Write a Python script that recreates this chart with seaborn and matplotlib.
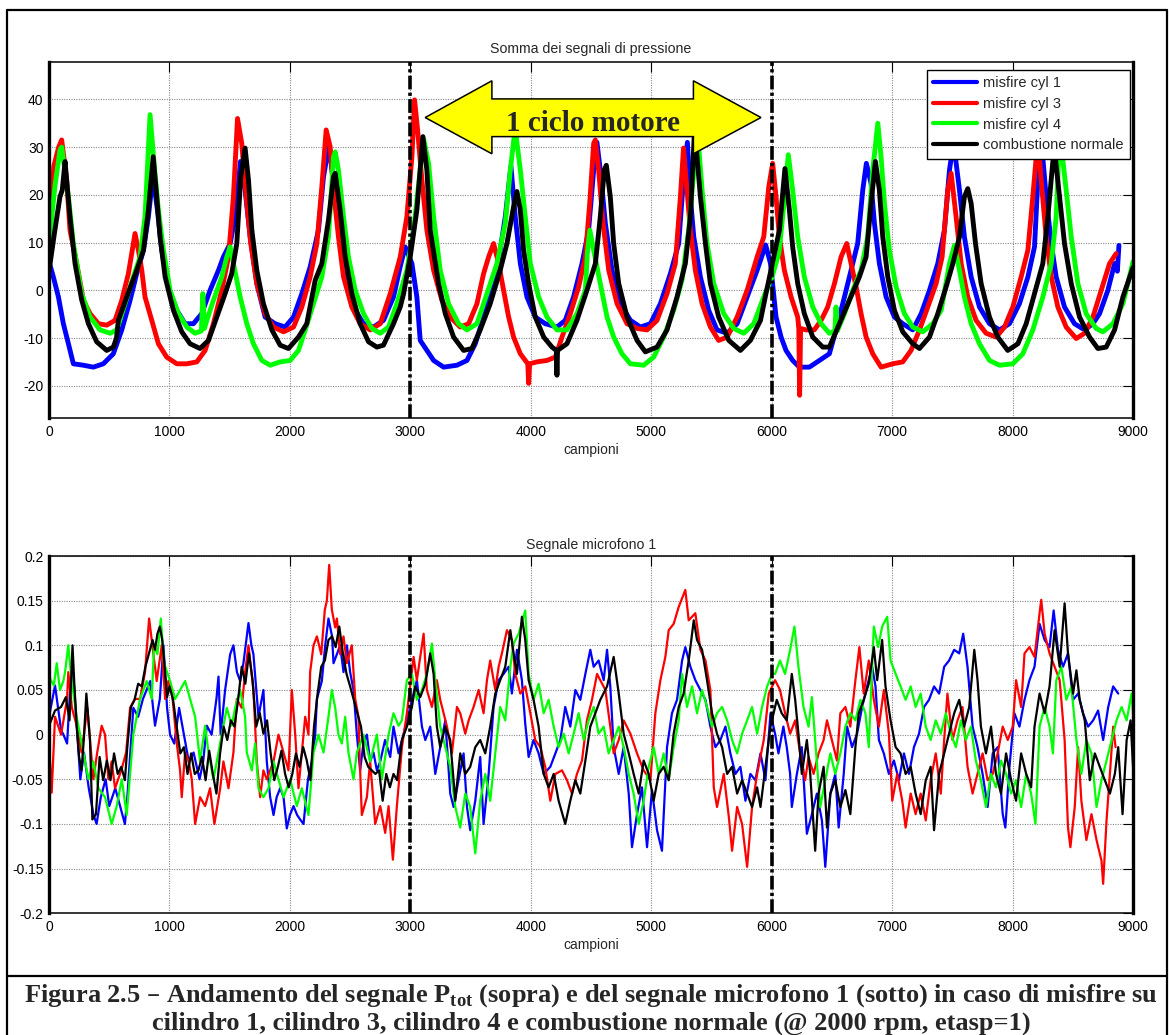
import matplotlib
matplotlib.use("Agg")
import matplotlib.pyplot as plt
import pandas as pd
import seaborn as sns
from matplotlib.patches import Polygon
from matplotlib.lines import Line2D
from matplotlib.ticker import FuncFormatter

sns.set_style("white")
plt.rcParams["font.family"] = ["Liberation Sans", "DejaVu Sans"]
plt.rcParams["axes.unicode_minus"] = False

series_names = ["misfire cyl 1", "misfire cyl 3", "misfire cyl 4", "combustione normale"]
series_colors = ["#0000ff", "#ff0000", "#00ff00", "#000000"]

x_ticks = list(range(0, 9001, 1000))
p_yticks = [-20, -10, 0, 10, 20, 30, 40]
m_yticks = [-0.2, -0.15, -0.1, -0.05, 0, 0.05, 0.1, 0.15, 0.2]
cycle_marks = [3000, 6000]

# ---- Somma dei segnali di pressione: (campione, valore) ----
p_cyl1 = [(0, 6), (36, 2.8), (78, -1.4), (119, -7), (161, -11.2), (202, -15.4), (285, -15.7), (368, -16.1),
          (451, -15.4), (534, -13.3), (604, -8.3), (673, -2.1), (728, 3.5), (784, 8.4), (825, 15.4), (862, 24),
          (900, 16.8), (936, 8.4), (991, 0.7), (1061, -4.2), (1130, -7), (1199, -7), (1268, -4.9), (1337, 0),
          (1407, 4.2), (1448, 7), (1504, 9.8), (1545, 15.4), (1590, 27), (1628, 21), (1670, 11.2), (1725, 1.4),
          (1794, -5.6), (1877, -7), (1960, -7.7), (2030, -5.6), (2099, -0.7), (2168, 4.9), (2237, 12.6),
          (2279, 23.8), (2325, 30.5), (2362, 22.4), (2403, 12.6), (2459, 2.8), (2528, -3.5), (2611, -7),
          (2694, -7.7), (2777, -6.3), (2860, -1.4), (2916, 5), (2957, 9.1), (3013, 5.6), (3054, -1.4),
          (3082, -10.5), (3137, -12.6), (3193, -14.7), (3276, -16.1), (3387, -15.7), (3470, -14.7),
          (3539, -11.2), (3608, -5.6), (3663, 0), (3733, 6.3), (3788, 15.4), (3835, 26), (3871, 15.4),
          (3913, 5.6), (3968, -1.4), (4037, -5.6), (4120, -7), (4217, -7.7), (4286, -6.3), (4355, -1.4),
          (4425, 5.6), (4480, 12.6), (4522, 25.2), (4549, 31), (4577, 25.2), (4619, 14), (4674, 4.2),
          (4743, -2.8), (4827, -6.3), (4910, -7.7), (4993, -7), (5076, -2.8), (5159, 3.5), (5228, 9.8),
          (5269, 23.8), (5300, 31), (5330, 18), (5353, 11.2), (5408, 2.8), (5477, -4.2), (5546, -8.3),
          (5630, -9), (5713, -7), (5796, -1.4), (5879, 4.2), (5950, 9.5), (5990, 5.6), (6010, 0.7),
          (6036, -5.6), (6078, -9.8), (6119, -12.6), (6174, -14.7), (6230, -16.1), (6313, -16.1),
          (6396, -14.7), (6479, -13.3), (6534, -8.3), (6604, -1.4), (6659, 4.2), (6714, 9.8), (6756, 21),
          (6786, 26.6), (6825, 22.4), (6853, 14), (6894, 5.6), (6950, -1.4), (7019, -5.6), (7088, -7),
          (7171, -8.3), (7241, -4.9), (7310, 0), (7379, 5.6), (7434, 12.6), (7476, 25.2), (7510, 31),
          (7559, 21), (7600, 11.2), (7656, 2.8), (7725, -3.5), (7808, -7), (7891, -8.3), (7974, -7),
          (8057, -2.8), (8127, 2.8), (8182, 9.1), (8210, 23.1), (8240, 31), (8279, 19.6), (8321, 9.8),
          (8362, 2.8), (8431, -3.5), (8514, -7), (8598, -8.3), (8667, -7), (8722, -4.9), (8791, 0),
          (8847, 5.6), (8870, 4), (8883, 9.4)]

p_cyl3 = [(0, 13), (40, 26), (80, 30), (105, 31.5), (147, 23.1), (174, 12.6), (230, 5.6), (285, -2.1),
          (341, -4.9), (410, -7), (479, -7.3), (548, -6.3), (604, -2.1), (659, 3.5), (700, 9.8), (714, 11.9),
          (742, 8.4), (770, 4.2), (797, -1.4), (853, -6.3), (908, -11.2), (977, -14), (1061, -15.4),
          (1144, -15.4), (1227, -15), (1296, -12.6), (1365, -7), (1434, 0), (1490, 7), (1531, 19.6),
          (1565, 36), (1600, 30.8), (1637, 19.6), (1675, 9.8), (1725, 1.4), (1794, -4.9), (1864, -7.7),
          (1947, -8.7), (2030, -7.7), (2099, -3.5), (2168, 2.8), (2224, 9.8), (2265, 21.7), (2301, 33.6),
          (2334, 30.1), (2362, 21), (2403, 11.2), (2445, 2.8), (2514, -3.5), (2583, -7), (2666, -8.3),
          (2750, -7), (2833, -0.7), (2916, 7), (2971, 15.4), (3013, 28), (3035, 39.9), (3060, 33.6),
          (3096, 23.1), (3137, 12.6), (3193, 4.2), (3262, -2.1), (3331, -5.6), (3414, -7.7), (3484, -7),
          (3553, -2.8), (3608, 3.5), (3650, 7), (3691, 9.8), (3733, 5.6), (3774, 0), (3816, -5.6),
          (3857, -9.8), (3913, -13.3), (3975, -15.4), (3982, -19.5), (3990, -15.4), (4051, -15),
          (4134, -14.7), (4204, -14), (4259, -9.8), (4328, -4.9), (4397, 0.7), (4453, 7), (4489, 18.2),
          (4522, 30.8), (4536, 31.5), (4563, 25.2), (4600, 14), (4647, 4.2), (4716, -2.8), (4799, -7),
          (4882, -8), (4965, -8.3), (5048, -6.3), (5131, -0.7), (5200, 5.6), (5242, 19.6), (5268, 29.8),
          (5292, 22.4), (5325, 12.6), (5366, 4.2), (5422, -2.8), (5491, -7.7), (5560, -10.5), (5630, -9.8),
          (5713, -5.6), (5796, 0), (5879, 7), (5934, 11.2), (5976, 21.7), (6008, 26.6), (6036, 19.6),
          (6064, 11.2), (6105, 4.2), (6161, -1.4), (6216, -5.6), (6225, -8), (6232, -22), (6240, -8),
          (6285, -8.3), (6354, -8.3), (6410, -6.3), (6465, -3.5), (6521, 1.4), (6576, 7), (6623, 9.8),
          (6659, 5.6), (6701, 0.7), (6742, -4.9), (6784, -9.8), (6839, -13.3), (6908, -16.1), (7005, -15.4),
          (7088, -15), (7157, -12.6), (7227, -8.3), (7296, -3.5), (7365, 1.4), (7415, 7), (7462, 21),
          (7490, 24.5), (7531, 15.4), (7573, 5.6), (7628, -1.4), (7697, -6.3), (7780, -9), (7864, -9.8),
          (7933, -7.7), (8002, -3.5), (8071, 2.8), (8127, 8.4), (8168, 19.6), (8210, 32), (8237, 23.1),
          (8279, 11.2), (8321, 2.8), (8376, -3.5), (8445, -7.7), (8528, -10.1), (8598, -9), (8667, -5.6),
          (8736, 0), (8805, 5.6), (8860, 7.7)]

p_cyl4 = [(0, 9.8), (50, 22), (91, 29.4), (105, 30), (161, 19.6), (202, 9.8), (271, -0.7), (341, -5.6),
          (424, -8.3), (507, -9), (562, -8.3), (631, -2.8), (700, 2.8), (756, 7), (797, 15.4), (839, 36.8),
          (872, 26.6), (908, 16.8), (950, 8.4), (1005, 0), (1074, -4.9), (1144, -7.7), (1213, -9),
          (1265, -8.5), (1277, -0.7), (1290, -8), (1310, -6.3), (1365, -2.1), (1434, 2.8), (1476, 7),
          (1504, 9.1), (1531, 5.6), (1565, 1.4), (1587, -1.4), (1642, -7), (1697, -11.2), (1767, -14.7),
          (1836, -15.7), (1919, -15), (2002, -14.7), (2071, -12.6), (2127, -8.3), (2196, -2.8), (2265, 2.8),
          (2320, 11.2), (2362, 28), (2376, 29), (2403, 25.2), (2445, 15.4), (2486, 7), (2542, 0),
          (2611, -4.9), (2680, -8), (2750, -9), (2819, -7.7), (2888, -2.8), (2971, 4.2), (3027, 12.6),
          (3082, 25.2), (3110, 31.8), (3151, 26.6), (3193, 15.4), (3248, 4.2), (3317, -2.8), (3400, -7),
          (3470, -8.3), (3553, -7), (3636, -0.7), (3719, 5.6), (3788, 14), (3830, 25.2), (3870, 34),
          (3913, 25.2), (3954, 15.4), (3996, 5.6), (4065, -1.4), (4134, -5.6), (4217, -8.3), (4300, -8.3),
          (4383, -4.9), (4453, 0), (4470, 8), (4490, 12.6), (4522, 8.4), (4577, 1.4), (4633, -5.6),
          (4688, -9.8), (4757, -13.3), (4827, -15.4), (4937, -15.7), (5020, -14), (5103, -9.8), (5186, -4.2),
          (5255, 2.1), (5311, 12.6), (5350, 24), (5385, 33), (5422, 21), (5463, 9.8), (5519, 1.4),
          (5602, -4.9), (5685, -8), (5768, -9), (5851, -7), (5934, -1.4), (6003, 2.8), (6059, 7.7),
          (6091, 15.4), (6138, 28.4), (6174, 21), (6216, 11.2), (6271, 2.8), (6341, -3.5), (6410, -7),
          (6479, -9), (6525, -8.5), (6534, -3.5), (6545, -8.5), (6604, -4.9), (6673, 0), (6742, 4.2),
          (6797, 11.2), (6839, 25.2), (6881, 35), (6908, 28), (6936, 18.2), (6977, 8.4), (7033, 0.7),
          (7102, -4.9), (7171, -7.7), (7254, -8.7), (7337, -7), (7407, -4.2), (7476, 5.6), (7517, 9.4),
          (7559, 4.2), (7600, -1.4), (7656, -7), (7725, -11.2), (7808, -14.7), (7891, -15.7), (8002, -15.4),
          (8085, -13.3), (8168, -8.3), (8251, -1.4), (8321, 5.6), (8362, 15.4), (8392, 33), (8445, 21),
          (8487, 11.2), (8542, 1.4), (8611, -4.9), (8694, -8), (8750, -8.7), (8833, -7), (8916, -2.8),
          (9000, 6)]

p_normal = [(0, 4), (45, 12), (91, 19.6), (110, 21), (133, 27), (150, 22), (174, 15.4), (216, 5.6), (271, -2),
            (327, -7), (396, -10.8), (479, -12.6), (534, -11.9), (560, -10), (576, -6.3), (645, -1.4),
            (728, 4.2), (784, 8.4), (825, 16.8), (865, 28), (894, 19.6), (922, 11.2), (964, 2.8), (1033, -4.2),
            (1102, -8.7), (1171, -11.2), (1254, -12.2), (1324, -10.5), (1393, -5.6), (1462, -0.7), (1517, 3.5),
            (1559, 9.8), (1592, 23.8), (1628, 29.8), (1656, 23.1), (1684, 12.6), (1725, 4.2), (1780, -2.8),
            (1850, -8.3), (1919, -11.5), (1988, -12.2), (2071, -9.8), (2140, -7), (2210, 2.1), (2265, 5.6),
            (2320, 14.7), (2362, 23.8), (2376, 24.5), (2417, 16.8), (2459, 7), (2514, -0.7), (2583, -7),
            (2653, -10.8), (2722, -11.9), (2777, -11.5), (2860, -7), (2916, -3.5), (2944, -0.7), (2999, 7),
            (3054, 16.8), (3104, 32.2), (3137, 25.2), (3165, 12.6), (3234, 1.4), (3290, -4.9), (3359, -9.8),
            (3442, -12.6), (3511, -12.2), (3580, -8.3), (3663, -2.8), (3746, 4.2), (3802, 9.8), (3857, 17.5),
            (3885, 20.7), (3913, 16.8), (3940, 8.4), (3982, 1.4), (4037, -5.6), (4107, -9.8), (4176, -11.9),
            (4212, -12.6), (4217, -17.8), (4222, -12.6), (4300, -11.2), (4383, -6.3), (4466, 0), (4536, 5.6),
            (4577, 15.4), (4610, 25.2), (4627, 26.2), (4660, 19.6), (4688, 9.8), (4730, 1.4), (4799, -5.6),
            (4882, -10.5), (4951, -12.9), (5048, -11.9), (5131, -8.3), (5214, -1.4), (5283, 5.6), (5325, 15.4),
            (5360, 34), (5408, 19.6), (5450, 9.8), (5491, 1.4), (5560, -5.6), (5644, -10.5), (5740, -12.6),
            (5823, -10.5), (5907, -6.3), (5950, -1), (6000, 5), (6064, 12.6), (6110, 25.5), (6147, 16.8),
            (6174, 9.1), (6216, 1.4), (6271, -4.9), (6341, -9.8), (6424, -11.9), (6479, -11.9), (6562, -7),
            (6645, -2.1), (6728, 2.8), (6784, 7), (6825, 18.2), (6861, 27), (6894, 21), (6922, 11.2),
            (6964, 2.8), (7019, -4.2), (7088, -8.7), (7171, -11.2), (7227, -12.2), (7310, -9.8), (7379, -4.9),
            (7448, 0.7), (7504, 5.6), (7559, 11.2), (7600, 19.6), (7628, 21.3), (7656, 18.2), (7692, 9.8),
            (7739, 1.4), (7808, -5.6), (7877, -9.8), (7960, -12.6), (8044, -11.2), (8113, -7), (8182, -0.7),
            (8251, 5.6), (8293, 15.4), (8345, 30), (8390, 19.6), (8431, 9.8), (8487, 1.4), (8556, -5.6),
            (8639, -9.8), (8708, -12.2), (8777, -11.9), (8847, -8.3), (8916, -1.4), (9000, 4.8)]

# ---- Segnale microfono 1: (campione, valore) ----
m_cyl1 = [(0, 0.02), (50, 0.055), (100, 0.005), (120, 0.0), (150, -0.01), (175, 0.05), (200, 0.07), (230, 0.01),
          (260, -0.05), (290, -0.02), (330, -0.06), (370, -0.09), (395, -0.1), (430, -0.07), (470, -0.05),
          (500, -0.08), (550, -0.06), (590, -0.08), (630, -0.1), (650, -0.07), (700, 0.03), (740, 0.02),
          (780, 0.04), (810, 0.05), (840, 0.06), (880, 0.01), (920, 0.04), (950, 0.1), (980, 0.03), (1005, 0.0),
          (1040, -0.01), (1080, 0.03), (1120, 0.0), (1160, -0.03), (1200, -0.02), (1250, -0.05), (1280, -0.03),
          (1310, 0.01), (1350, 0.0), (1390, 0.04), (1407, 0.065), (1425, 0.0), (1462, 0.05), (1504, 0.09),
          (1531, 0.1), (1560, 0.07), (1587, 0.06), (1614, 0.08), (1656, 0.125), (1680, 0.1), (1697, 0.09),
          (1739, 0.02), (1780, 0.05), (1808, -0.03), (1836, -0.07), (1864, -0.09), (1890, -0.07), (1919, -0.06),
          (1947, -0.07), (1974, -0.105), (2000, -0.09), (2030, -0.08), (2060, -0.09), (2085, -0.095),
          (2113, -0.1), (2150, -0.05), (2182, -0.03), (2210, 0.0), (2224, 0.04), (2265, 0.06), (2293, 0.1),
          (2320, 0.13), (2350, 0.11), (2362, 0.08), (2390, 0.09), (2417, 0.1), (2445, 0.07), (2473, 0.1),
          (2500, 0.07), (2528, 0.05), (2556, 0.0), (2583, -0.04), (2610, -0.01), (2639, 0.0), (2666, -0.03),
          (2694, -0.02), (2722, -0.04), (2750, -0.03), (2790, -0.006), (2833, -0.025), (2860, 0.009),
          (2902, -0.021), (2944, 0.001), (2999, 0.031), (3054, 0.061), (3096, 0.009), (3124, -0.006),
          (3165, 0.009), (3207, -0.044), (3248, -0.014), (3290, 0.016), (3331, -0.066), (3359, -0.081),
          (3400, -0.051), (3442, -0.021), (3470, -0.081), (3497, -0.107), (3539, -0.074), (3580, -0.025),
          (3608, -0.1), (3650, -0.044), (3691, 0.031), (3733, 0.061), (3774, 0.068), (3816, 0.076),
          (3843, 0.046), (3885, 0.095), (3926, 0.061), (3954, 0.012), (3982, -0.025), (4023, -0.006),
          (4065, -0.021), (4107, -0.044), (4162, -0.036), (4204, -0.021), (4245, -0.006), (4286, 0.031),
          (4328, 0.009), (4370, 0.05), (4411, 0.039), (4453, 0.068), (4494, 0.095), (4522, 0.076),
          (4563, 0.083), (4605, 0.061), (4633, 0.095), (4660, 0.054), (4688, -0.014), (4730, -0.044),
          (4771, -0.014), (4813, -0.066), (4840, -0.126), (4882, -0.089), (4923, -0.059), (4965, -0.126),
          (5006, -0.062), (5048, -0.107), (5089, -0.13), (5131, -0.014), (5172, 0.024), (5214, 0.039),
          (5256, 0.083), (5283, 0.098), (5325, 0.076), (5366, 0.061), (5408, 0.05), (5450, 0.039),
          (5491, 0.009), (5533, -0.014), (5574, -0.006), (5616, 0.009), (5657, -0.021), (5699, -0.044),
          (5740, -0.036), (5782, -0.074), (5823, -0.044), (5865, -0.051), (5907, -0.021), (5948, -0.051),
          (5990, 0.024), (6028, 0.001), (6056, -0.021), (6097, 0.009), (6125, -0.014), (6153, -0.044),
          (6167, -0.081), (6209, -0.044), (6250, -0.014), (6292, -0.111), (6334, -0.089), (6375, -0.066),
          (6417, -0.096), (6445, -0.148), (6487, -0.066), (6528, -0.044), (6556, -0.104), (6598, -0.044),
          (6626, 0.009), (6667, -0.014), (6709, 0.001), (6751, 0.031), (6792, 0.054), (6834, 0.076),
          (6862, 0.054), (6890, -0.006), (6931, -0.021), (6973, -0.044), (7015, -0.029), (7056, -0.051),
          (7098, -0.021), (7140, -0.044), (7181, -0.014), (7223, 0.001), (7265, 0.031), (7306, 0.039),
          (7348, 0.054), (7390, 0.046), (7432, 0.076), (7473, 0.083), (7515, 0.095), (7557, 0.091),
          (7590, 0.113), (7626, 0.076), (7668, 0.009), (7709, -0.014), (7751, -0.044), (7793, -0.081),
          (7835, -0.021), (7876, -0.014), (7918, -0.089), (7940, -0.104), (7974, -0.036), (8015, 0.024),
          (8057, 0.009), (8099, 0.039), (8140, 0.061), (8182, 0.076), (8224, 0.124), (8266, 0.106),
          (8307, 0.098), (8341, 0.139), (8377, 0.095), (8419, 0.076), (8460, 0.091), (8502, 0.039),
          (8544, 0.046), (8585, 0.024), (8627, 0.009), (8669, 0.016), (8710, 0.027), (8752, -0.006),
          (8794, 0.031), (8835, 0.054), (8877, 0.046)]

m_cyl3 = [(0, -0.01), (22, -0.065), (50, 0.02), (100, 0.0), (150, 0.04), (160, 0.07), (190, 0.03), (230, 0.01),
          (270, -0.02), (318, 0.03), (368, -0.05), (400, -0.02), (437, 0.01), (465, 0.0), (493, -0.05),
          (520, -0.03), (548, -0.06), (600, -0.04), (640, -0.02), (673, 0.03), (714, 0.04), (756, 0.04),
          (797, 0.07), (831, 0.13), (867, 0.09), (894, 0.06), (936, 0.1), (964, 0.04), (990, 0.06),
          (1019, 0.05), (1061, -0.01), (1088, -0.04), (1102, -0.07), (1130, -0.02), (1160, -0.03),
          (1185, -0.05), (1213, -0.1), (1254, -0.07), (1296, -0.08), (1337, -0.06), (1373, -0.1),
          (1421, -0.06), (1448, -0.03), (1490, -0.06), (1531, -0.02), (1559, 0.04), (1600, 0.03),
          (1628, 0.07), (1656, 0.1), (1697, 0.05), (1725, -0.03), (1753, -0.07), (1780, -0.04), (1808, -0.05),
          (1864, -0.03), (1905, 0.0), (1947, -0.02), (1988, -0.04), (2016, 0.05), (2044, 0.0), (2071, -0.06),
          (2099, -0.02), (2127, 0.02), (2154, 0.0), (2168, 0.07), (2196, 0.1), (2224, 0.11), (2260, 0.09),
          (2290, 0.14), (2307, 0.15), (2326, 0.19), (2348, 0.14), (2376, 0.12), (2390, 0.13), (2417, 0.09),
          (2445, 0.11), (2473, 0.08), (2514, 0.1), (2542, 0.04), (2569, 0.02), (2583, -0.04), (2597, -0.09),
          (2639, -0.07), (2666, -0.03), (2708, -0.1), (2750, -0.08), (2791, -0.11), (2819, -0.08),
          (2855, -0.14), (2888, -0.08), (2930, -0.014), (2971, 0.024), (3027, 0.087), (3054, 0.061),
          (3110, 0.113), (3137, 0.05), (3179, 0.031), (3220, 0.061), (3248, 0.039), (3304, 0.009),
          (3345, -0.021), (3387, 0.031), (3414, 0.024), (3456, 0.001), (3484, 0.016), (3525, 0.031),
          (3567, 0.05), (3608, 0.024), (3636, 0.061), (3663, 0.083), (3705, 0.05), (3733, 0.076),
          (3760, 0.091), (3802, 0.117), (3843, 0.106), (3871, 0.068), (3913, 0.046), (3954, 0.054),
          (3996, 0.024), (4037, -0.006), (4079, -0.014), (4120, -0.036), (4162, -0.074), (4204, -0.044),
          (4259, -0.04), (4300, -0.051), (4342, -0.066), (4383, -0.044), (4425, -0.029), (4466, 0.016),
          (4508, 0.039), (4550, 0.068), (4577, 0.061), (4619, 0.05), (4660, 0.009), (4688, -0.021),
          (4730, -0.006), (4771, 0.016), (4827, 0.001), (4882, -0.021), (4937, -0.04), (4993, -0.051),
          (5034, 0.024), (5076, 0.061), (5117, 0.087), (5145, 0.117), (5186, 0.124), (5228, 0.143),
          (5283, 0.162), (5311, 0.128), (5366, 0.136), (5408, 0.095), (5450, 0.083), (5491, 0.05),
          (5519, -0.059), (5546, -0.081), (5602, -0.044), (5644, -0.092), (5671, -0.13), (5713, -0.081),
          (5754, -0.1), (5796, -0.148), (5837, -0.081), (5879, -0.044), (5934, -0.006), (5976, 0.046),
          (6028, 0.061), (6069, 0.05), (6111, 0.024), (6153, 0.001), (6195, 0.016), (6236, -0.021),
          (6278, -0.051), (6306, -0.025), (6348, -0.044), (6389, -0.021), (6431, -0.006), (6459, 0.016),
          (6500, -0.006), (6542, -0.029), (6570, 0.024), (6612, 0.031), (6653, 0.009), (6695, 0.061),
          (6728, 0.098), (6764, 0.046), (6806, 0.083), (6848, 0.039), (6890, 0.009), (6931, 0.05),
          (6973, 0.001), (7001, -0.074), (7042, -0.044), (7084, -0.074), (7112, -0.104), (7154, -0.066),
          (7195, -0.089), (7237, -0.066), (7279, -0.096), (7320, -0.051), (7362, -0.021), (7404, -0.066),
          (7432, -0.006), (7459, 0.046), (7501, -0.006), (7543, 0.016), (7584, 0.031), (7626, -0.036),
          (7668, -0.066), (7709, -0.044), (7751, -0.021), (7793, -0.051), (7835, -0.044), (7876, -0.021),
          (7918, 0.009), (7960, -0.006), (8001, 0.009), (8029, 0.061), (8071, 0.031), (8099, 0.091),
          (8140, 0.098), (8182, 0.087), (8224, 0.136), (8238, 0.151), (8266, 0.113), (8307, 0.091),
          (8349, 0.076), (8391, 0.061), (8432, -0.006), (8460, -0.104), (8480, -0.126), (8516, -0.081),
          (8544, -0.014), (8571, -0.074), (8613, -0.118), (8655, -0.089), (8697, -0.118), (8738, -0.141),
          (8752, -0.167), (8780, -0.096), (8808, -0.044), (8835, 0.009), (8855, -0.014)]

m_cyl4 = [(0, 0.065), (40, 0.055), (64, 0.08), (91, 0.05), (119, 0.06), (133, 0.07), (160, 0.1), (188, 0.06),
          (230, 0.02), (285, -0.02), (327, -0.05), (368, -0.03), (410, -0.06), (465, -0.07), (520, -0.1),
          (562, -0.08), (604, -0.05), (645, -0.09), (700, 0.0), (756, 0.04), (811, 0.06), (853, 0.04),
          (872, 0.1), (900, 0.09), (928, 0.13), (955, 0.08), (1005, 0.06), (1047, 0.04), (1088, 0.05),
          (1130, 0.06), (1171, 0.04), (1213, 0.02), (1254, -0.03), (1296, 0.01), (1324, -0.02), (1365, -0.05),
          (1393, -0.03), (1434, 0.0), (1476, 0.03), (1517, 0.01), (1545, 0.03), (1587, 0.05), (1628, 0.02),
          (1642, -0.02), (1684, -0.04), (1711, -0.01), (1739, -0.06), (1780, -0.07), (1822, -0.06),
          (1864, -0.03), (1905, -0.05), (1947, -0.07), (2002, -0.05), (2057, -0.08), (2099, -0.06),
          (2154, -0.09), (2196, -0.02), (2237, 0.0), (2279, -0.02), (2320, 0.02), (2348, 0.05), (2376, 0.03),
          (2403, 0.0), (2431, -0.01), (2459, 0.02), (2486, -0.02), (2514, -0.04), (2528, -0.05), (2556, -0.02),
          (2611, 0.0), (2666, -0.03), (2722, 0.0), (2763, -0.05), (2819, 0.0), (2860, 0.024), (2902, 0.01),
          (2930, 0.016), (2971, 0.061), (3013, 0.068), (3054, 0.039), (3096, 0.05), (3137, 0.068),
          (3179, 0.102), (3207, 0.061), (3248, 0.009), (3290, -0.014), (3331, -0.036), (3373, -0.081),
          (3414, -0.104), (3456, -0.066), (3497, -0.081), (3539, -0.133), (3580, -0.074), (3622, -0.044),
          (3663, -0.074), (3705, -0.021), (3746, 0.031), (3788, 0.016), (3830, 0.076), (3857, 0.102),
          (3899, 0.113), (3954, 0.139), (3982, 0.068), (4023, 0.039), (4065, 0.057), (4107, 0.024),
          (4148, 0.039), (4190, 0.009), (4231, -0.014), (4273, 0.001), (4314, -0.021), (4356, 0.001),
          (4397, 0.024), (4439, -0.006), (4480, 0.016), (4522, 0.031), (4563, 0.001), (4605, 0.009),
          (4646, -0.021), (4688, -0.006), (4730, 0.009), (4771, -0.014), (4813, -0.044), (4854, -0.066),
          (4896, -0.1), (4937, -0.074), (4979, -0.036), (5020, -0.014), (5062, -0.044), (5103, -0.021),
          (5145, -0.051), (5186, -0.014), (5228, 0.016), (5256, 0.068), (5297, 0.031), (5339, 0.054),
          (5380, 0.024), (5422, 0.05), (5463, 0.031), (5505, 0.009), (5546, 0.024), (5588, 0.031),
          (5630, 0.016), (5671, -0.006), (5713, -0.021), (5754, 0.001), (5796, 0.016), (5837, 0.031),
          (5879, 0.001), (5920, 0.031), (5962, 0.054), (6003, 0.068), (6028, 0.068), (6069, 0.083),
          (6111, 0.068), (6153, 0.095), (6189, 0.121), (6222, 0.076), (6264, 0.031), (6306, 0.009),
          (6334, 0.042), (6361, -0.006), (6403, -0.081), (6445, -0.051), (6487, -0.021), (6528, -0.044),
          (6570, -0.021), (6612, 0.009), (6653, 0.024), (6695, 0.016), (6737, 0.039), (6778, 0.024),
          (6806, -0.014), (6848, 0.121), (6884, 0.098), (6917, 0.121), (6959, 0.132), (6987, 0.083),
          (7029, 0.068), (7070, 0.054), (7112, 0.039), (7154, 0.054), (7195, 0.031), (7237, 0.046),
          (7279, 0.009), (7320, -0.006), (7362, 0.016), (7404, 0.001), (7446, 0.024), (7487, 0.001),
          (7529, -0.014), (7571, 0.016), (7612, -0.006), (7654, 0.009), (7695, -0.029), (7737, -0.051),
          (7779, -0.081), (7821, -0.044), (7862, -0.059), (7904, -0.029), (7946, -0.044), (7988, -0.066),
          (8029, -0.051), (8071, -0.081), (8113, -0.044), (8154, -0.066), (8190, -0.1), (8224, 0.009),
          (8266, 0.031), (8307, 0.009), (8335, -0.021), (8363, 0.061), (8405, 0.076), (8446, 0.039),
          (8488, 0.054), (8530, -0.006), (8571, -0.044), (8613, -0.006), (8655, -0.021), (8697, -0.081),
          (8738, -0.051), (8780, -0.029), (8822, -0.006), (8863, 0.016), (8905, 0.031), (8947, 0.016),
          (8988, 0.046), (9000, 0.024)]

m_normal = [(0, 0.01), (50, 0.027), (100, 0.031), (140, 0.042), (170, 0.016), (195, 0.1), (210, 0.057),
            (230, 0.009), (250, -0.025), (270, -0.04), (290, -0.003), (310, 0.046), (340, -0.006), (360, -0.095),
            (390, -0.089), (420, -0.025), (450, -0.051), (480, -0.029), (510, -0.051), (540, -0.021),
            (570, -0.044), (600, -0.036), (630, -0.051), (650, -0.014), (680, 0.031), (710, 0.039), (740, 0.057),
            (770, 0.054), (800, 0.076), (830, 0.091), (860, 0.106), (880, 0.095), (900, 0.113), (920, 0.121),
            (940, 0.106), (960, 0.076), (980, 0.042), (1000, 0.054), (1030, 0.039), (1060, 0.009), (1090, -0.021),
            (1120, -0.014), (1150, -0.044), (1180, -0.021), (1210, -0.044), (1240, -0.04), (1270, -0.025),
            (1300, -0.051), (1330, -0.018), (1360, -0.044), (1390, -0.066), (1420, -0.021), (1450, 0.009),
            (1480, -0.006), (1510, 0.016), (1540, 0.009), (1570, 0.039), (1600, 0.076), (1630, 0.057),
            (1660, 0.091), (1690, 0.061), (1720, 0.009), (1750, 0.024), (1780, 0.001), (1810, 0.016),
            (1840, -0.021), (1870, -0.051), (1900, -0.036), (1930, -0.018), (1960, -0.044), (1990, -0.059),
            (2020, -0.044), (2050, -0.021), (2080, -0.036), (2110, -0.014), (2140, -0.029), (2170, -0.051),
            (2200, 0.009), (2230, 0.046), (2260, 0.076), (2290, 0.083), (2320, 0.106), (2350, 0.11), (2380, 0.098),
            (2410, 0.121), (2440, 0.091), (2470, 0.068), (2500, 0.054), (2530, 0.039), (2560, 0.024), (2590, 0.009),
            (2620, -0.025), (2650, -0.036), (2680, -0.04), (2710, -0.044), (2740, -0.04), (2770, -0.074),
            (2800, -0.044), (2830, -0.059), (2860, -0.044), (2890, -0.051), (2930, -0.006), (2971, 0.009),
            (3013, 0.031), (3040, 0.054), (3082, 0.042), (3124, 0.057), (3165, 0.091), (3193, 0.068),
            (3220, 0.009), (3248, -0.014), (3290, 0.009), (3331, -0.006), (3373, -0.074), (3414, -0.021),
            (3456, -0.044), (3497, -0.036), (3539, -0.014), (3580, -0.006), (3622, -0.021), (3663, 0.009),
            (3705, 0.046), (3746, 0.061), (3788, 0.076), (3830, 0.117), (3857, 0.091), (3885, 0.068),
            (3926, 0.132), (3954, 0.106), (3982, 0.061), (4023, 0.039), (4065, 0.009), (4107, -0.044),
            (4148, -0.059), (4190, -0.044), (4231, -0.074), (4286, -0.1), (4328, -0.074), (4370, -0.051),
            (4411, -0.066), (4453, -0.029), (4494, 0.009), (4536, 0.024), (4577, 0.039), (4633, 0.054),
            (4688, 0.087), (4730, 0.046), (4771, 0.001), (4813, -0.021), (4854, -0.044), (4896, -0.066),
            (4937, -0.029), (4979, -0.044), (5020, -0.074), (5062, -0.044), (5103, -0.036), (5145, -0.051),
            (5186, 0.001), (5228, 0.031), (5269, 0.046), (5311, 0.083), (5353, 0.128), (5380, 0.106),
            (5422, 0.095), (5463, 0.061), (5505, 0.024), (5546, 0.001), (5588, -0.014), (5630, -0.044),
            (5671, -0.036), (5713, -0.066), (5754, -0.051), (5796, -0.066), (5837, -0.081), (5879, -0.059),
            (5907, -0.081), (5948, -0.036), (5990, 0.009), (6042, 0.039), (6083, 0.024), (6125, 0.016),
            (6167, 0.068), (6195, 0.039), (6222, 0.001), (6250, -0.044), (6292, -0.006), (6320, -0.044),
            (6361, -0.13), (6389, -0.066), (6431, -0.036), (6459, -0.104), (6487, -0.066), (6528, -0.051),
            (6570, -0.081), (6612, -0.062), (6653, -0.089), (6695, -0.014), (6723, 0.024), (6764, 0.039),
            (6806, 0.057), (6848, 0.098), (6876, 0.061), (6917, 0.106), (6945, 0.054), (6987, 0.016),
            (7029, -0.014), (7070, -0.021), (7112, -0.044), (7154, -0.036), (7195, -0.066), (7237, -0.089),
            (7279, -0.051), (7320, -0.036), (7348, -0.107), (7390, -0.044), (7432, -0.021), (7473, 0.001),
            (7515, 0.024), (7557, 0.039), (7598, 0.009), (7640, 0.031), (7682, 0.095), (7709, 0.061),
            (7737, 0.009), (7779, -0.021), (7821, 0.009), (7862, -0.044), (7904, -0.066), (7946, -0.021),
            (7988, -0.051), (8029, -0.074), (8071, -0.021), (8113, -0.044), (8154, -0.059), (8182, 0.009),
            (8224, 0.046), (8266, 0.024), (8307, 0.054), (8349, 0.117), (8391, 0.076), (8432, 0.147),
            (8460, 0.091), (8502, 0.046), (8530, 0.072), (8557, 0.039), (8599, 0.016), (8641, -0.051),
            (8683, -0.021), (8724, -0.036), (8766, -0.051), (8808, -0.066), (8849, -0.044), (8877, -0.014),
            (8913, -0.089), (8947, -0.006), (8980, 0.016), (9000, -0.036)]

# double arrow marking one engine cycle (data units of the upper panel)
arrow_x = (3123, 3677, 5350, 5911)
arrow_y = (28.6, 32.2, 36.2, 40.1, 43.9)


def long_frame(*series):
    rows = []
    for name, pts in zip(series_names, series):
        rows.extend((name, x, y) for x, y in pts)
    return pd.DataFrame(rows, columns=["serie", "campioni", "valore"])


def style_axes(ax, ylim, yticks, title, title_pad):
    ax.set_xlim(0, 9000)
    ax.set_ylim(*ylim)
    ax.set_xticks(x_ticks)
    ax.set_yticks(yticks)
    ax.yaxis.set_major_formatter(FuncFormatter(lambda v, p: f"{round(v, 3):g}"))
    ax.set_axisbelow(True)
    ax.grid(True, color="#8a8a8a", linestyle=(0, (1, 1.2)), linewidth=0.8)
    ax.tick_params(direction="in", top=True, right=True, length=7, width=0.8,
                   labelsize=10, pad=5, colors="black")
    ax.tick_params(axis="y", pad=4)
    for side in ("top", "bottom"):
        ax.spines[side].set_linewidth(1.1)
        ax.spines[side].set_color("black")
    for side in ("left", "right"):
        ax.spines[side].set_linewidth(2.4)
        ax.spines[side].set_color("black")
    ax.set_title(title, fontsize=10.2, pad=title_pad)
    ax.set_xlabel("campioni", fontsize=10, labelpad=3)
    ax.set_ylabel("")
    for xv in cycle_marks:
        ax.axvline(xv, color="black", linewidth=2.6, dashes=(3.8, 0.9, 0.9, 0.9), zorder=4)


fig = plt.figure(figsize=(11.7, 10.35), dpi=100)
ax_p = fig.add_axes([0.0419, 0.5964, 0.9265, 0.3440])
ax_m = fig.add_axes([0.0419, 0.1176, 0.9265, 0.3452])

df_p = long_frame(p_cyl1, p_cyl3, p_cyl4, p_normal)
sns.lineplot(data=df_p, x="campioni", y="valore", hue="serie", hue_order=series_names,
             palette=series_colors, estimator=None, sort=False, linewidth=3.5,
             legend=False, ax=ax_p)
style_axes(ax_p, (-26.7, 47.9), p_yticks, "Somma dei segnali di pressione", 6)

df_m = long_frame(m_cyl1, m_cyl3, m_cyl4, m_normal)
sns.lineplot(data=df_m, x="campioni", y="valore", hue="serie", hue_order=series_names,
             palette=series_colors, estimator=None, sort=False, linewidth=1.6,
             legend=False, ax=ax_m)
style_axes(ax_m, (-0.2, 0.2), m_yticks, "Segnale microfono 1", 5)

# yellow double arrow with its label
xl, xlb, xrb, xr = arrow_x
yhb, ybb, ymid, ybt, yht = arrow_y
arrow = Polygon([(xl, ymid), (xlb, yht), (xlb, ybt), (xrb, ybt), (xrb, yht), (xr, ymid),
                 (xrb, yhb), (xrb, ybb), (xlb, ybb), (xlb, yhb)], closed=True,
                facecolor="#ffff00", edgecolor="black", linewidth=1.1, zorder=6)
ax_p.add_patch(arrow)
ax_p.text((xl + xr) / 2, 33.4, "1 ciclo motore", ha="center", va="baseline",
          fontsize=21, fontweight="bold", family=["Liberation Serif", "DejaVu Serif"], zorder=7)

handles = [Line2D([], [], color=c, linewidth=3.0) for c in series_colors]
leg = ax_p.legend(handles, series_names, loc="upper right", bbox_to_anchor=(0.997, 0.977),
                  borderaxespad=0, fancybox=False, framealpha=1, edgecolor="black",
                  fontsize=10.5, handlelength=3.0, handletextpad=0.4, labelspacing=0.45,
                  borderpad=0.45)
leg.get_frame().set_linewidth(1.0)
leg.set_zorder(8)

# page frame and caption
sep_y = 1 - 976 / 1035
frame_kw = dict(color="black", linewidth=1.6, transform=fig.transFigure, clip_on=False)
fig.add_artist(Line2D([7 / 1170, 7 / 1170], [0, 1 - 10 / 1035], **frame_kw))
fig.add_artist(Line2D([1167 / 1170, 1167 / 1170], [0, 1 - 10 / 1035], **frame_kw))
fig.add_artist(Line2D([7 / 1170, 1167 / 1170], [1 - 10 / 1035, 1 - 10 / 1035], **frame_kw))
fig.add_artist(Line2D([7 / 1170, 1167 / 1170], [sep_y, sep_y], **frame_kw))

caption_kw = dict(ha="center", va="baseline", fontsize=19, fontweight="bold",
                  family=["Liberation Serif", "DejaVu Serif"])
fig.text(591 / 1170, 1 - 1001.7 / 1035,
         r"Figura 2.5 – Andamento del segnale P$_{\mathdefault{tot}}$ (sopra) e del segnale microfono 1 "
         r"(sotto) in caso di misfire su", **caption_kw)
fig.text(591 / 1170, 1 - 1030 / 1035,
         "cilindro 1, cilindro 3, cilindro 4 e combustione normale (@ 2000 rpm, etasp=1)", **caption_kw)

fig.savefig("out.png", dpi=100)
